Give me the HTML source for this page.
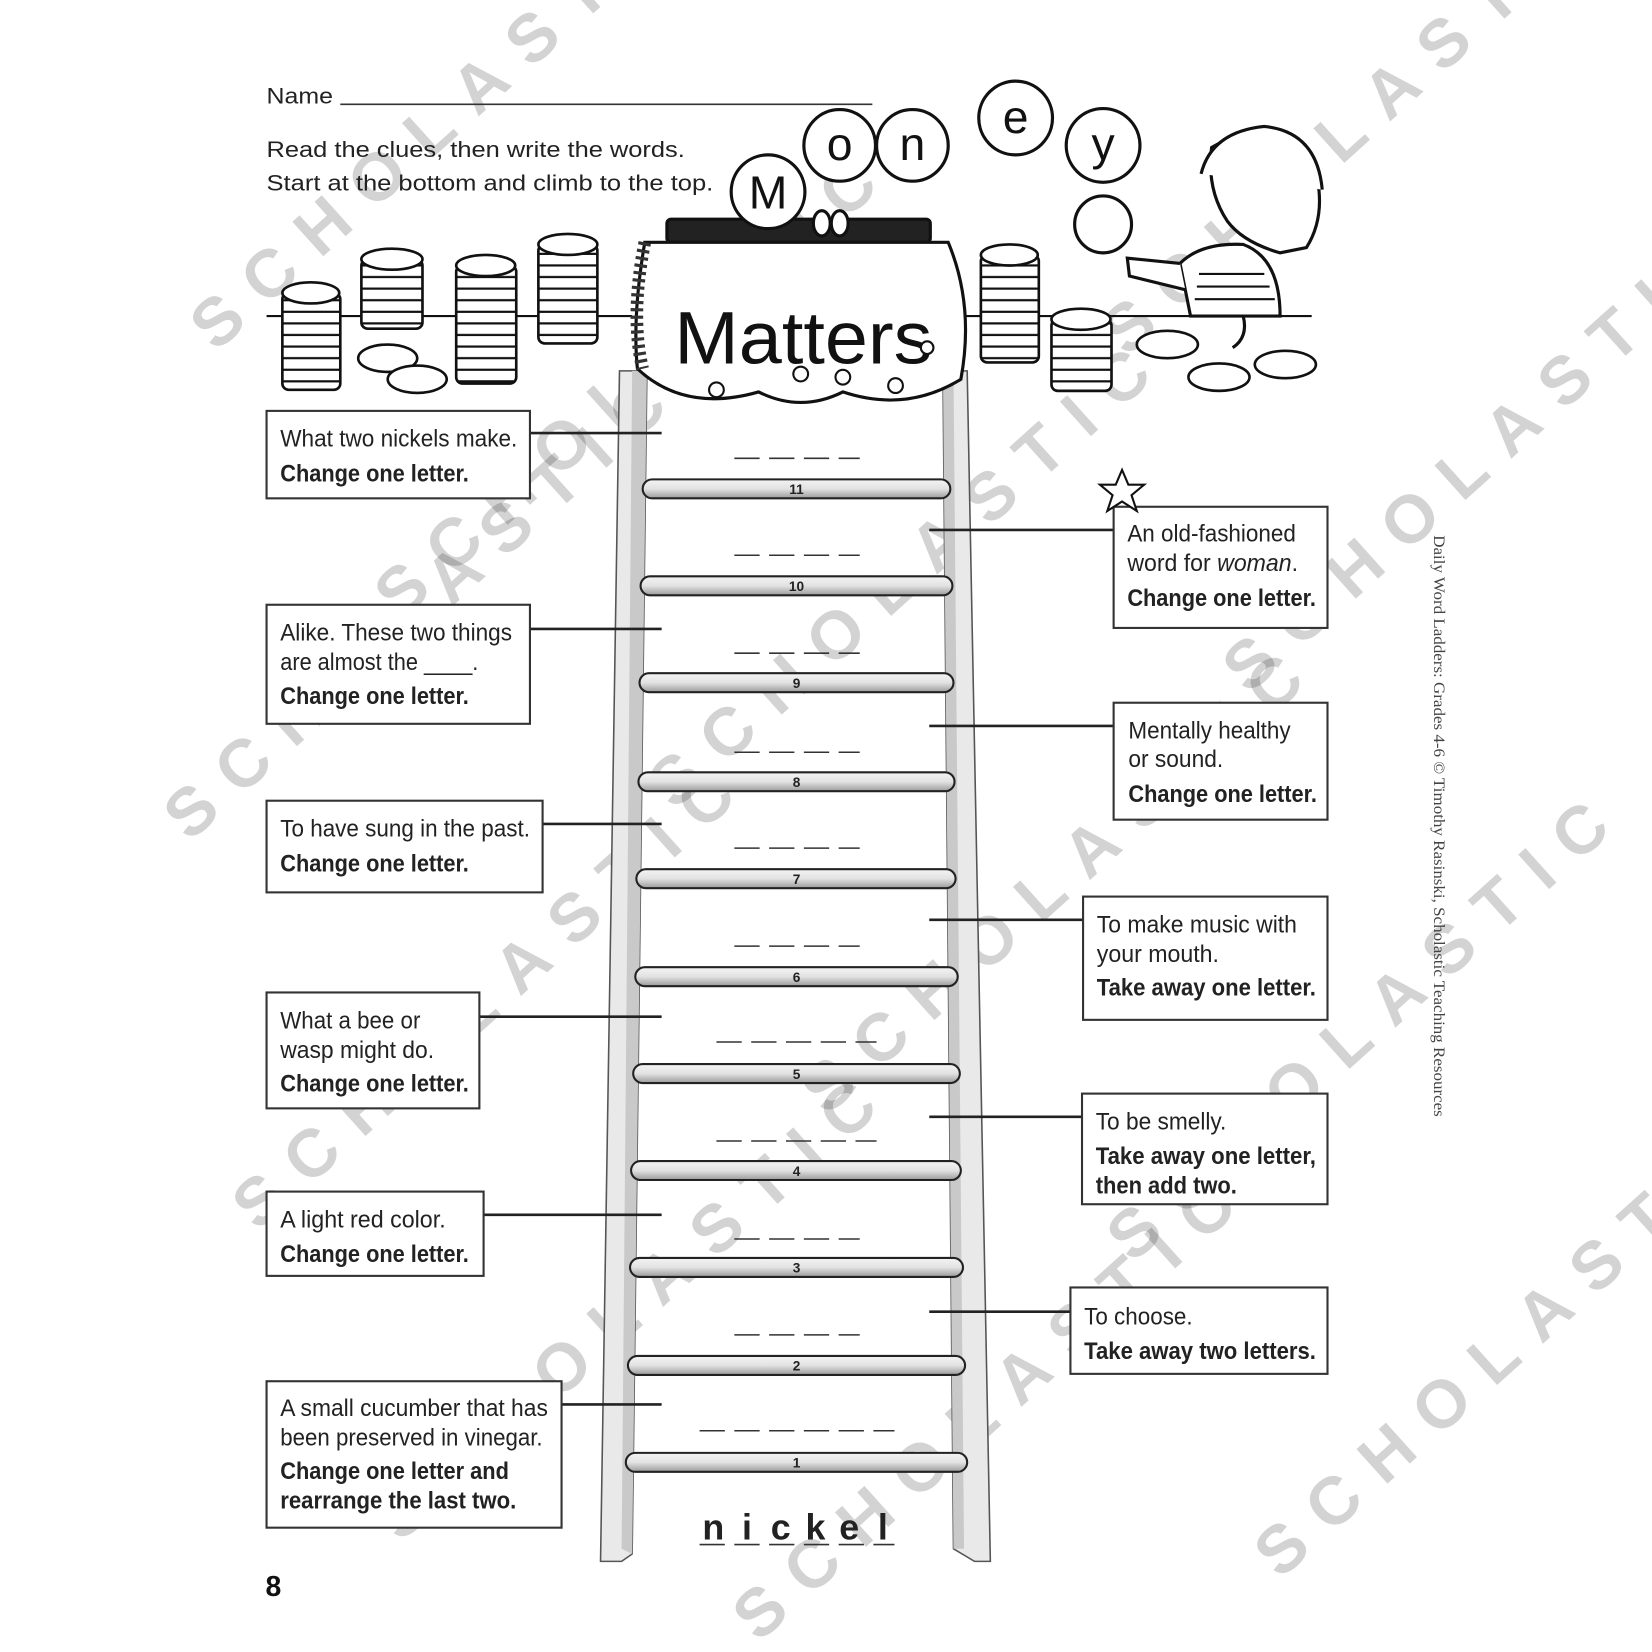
<!DOCTYPE html>
<html><head><meta charset="utf-8"><style>
html,body{margin:0;padding:0;background:#fff;}
#wrap{width:1652px;height:1652px;overflow:hidden;position:relative;}
svg{display:block}
.t{font-family:"Liberation Sans",sans-serif;font-size:23px;fill:#222;}
.b{font-weight:bold;}
.h{font-family:"Liberation Sans",sans-serif;font-size:21px;fill:#222;}
.wm{font-family:"Liberation Sans",sans-serif;font-size:64px;font-weight:bold;fill:#000;opacity:0.17;letter-spacing:22px;}
.n{font-family:"Liberation Sans",sans-serif;font-size:13px;font-weight:bold;fill:#222;text-anchor:middle;}
</style></head><body><div id="wrap">
<svg width="1652" height="1652" viewBox="0 0 1568 1568" xmlns="http://www.w3.org/2000/svg">
<defs>
<pattern id="st" width="10" height="11" patternUnits="userSpaceOnUse"><rect width="10" height="11" fill="#fff"/><line x1="0" y1="10" x2="10" y2="10" stroke="#111" stroke-width="2.2"/></pattern>
<linearGradient id="rg" x1="0" y1="0" x2="0" y2="1"><stop offset="0" stop-color="#f4f4f4"/><stop offset="0.5" stop-color="#e2e2e2"/><stop offset="1" stop-color="#9a9a9a"/></linearGradient>
</defs>
<!-- watermarks -->
<g>
<text class="wm" transform="translate(205,335) rotate(-42)">SCHOLASTIC</text>
<text class="wm" transform="translate(380,590) rotate(-42)">SCHOLASTIC</text>
<text class="wm" transform="translate(640,770) rotate(-42)">SCHOLASTIC</text>
<text class="wm" transform="translate(785,1060) rotate(-42)">SCHOLASTIC</text>
<text class="wm" transform="translate(245,1170) rotate(-42)">SCHOLASTIC</text>
<text class="wm" transform="translate(380,1465) rotate(-42)">SCHOLASTIC</text>
<text class="wm" transform="translate(1075,1200) rotate(-42)">SCHOLASTIC</text>
<text class="wm" transform="translate(1185,660) rotate(-42)">SCHOLASTIC</text>
<text class="wm" transform="translate(1215,1500) rotate(-42)">SCHOLASTIC</text>
<text class="wm" transform="translate(720,1560) rotate(-42)">SCHOLASTIC</text>
<text class="wm" transform="translate(1070,340) rotate(-42)">SCHOLASTIC</text>
<text class="wm" transform="translate(180,800) rotate(-42)">SCHOLASTIC</text>
</g>
<!-- header -->
<text class="h" x="253" y="98" textLength="63" lengthAdjust="spacingAndGlyphs">Name</text>
<line x1="323" y1="99" x2="828" y2="99" stroke="#333" stroke-width="1.5"/>
<text class="h" x="253" y="149" textLength="397" lengthAdjust="spacingAndGlyphs">Read the clues, then write the words.</text>
<text class="h" x="253" y="181" textLength="424" lengthAdjust="spacingAndGlyphs">Start at the bottom and climb to the top.</text>
<!-- ground line -->
<line x1="253" y1="300" x2="600" y2="300" stroke="#111" stroke-width="2"/>
<line x1="915" y1="300" x2="1245" y2="300" stroke="#111" stroke-width="2"/>
<!-- coin stacks -->
<g stroke="#111" stroke-width="2.5">
<rect x="268" y="278" width="55" height="92" rx="6" fill="url(#st)"/><ellipse cx="295" cy="278" rx="27" ry="10" fill="#fff"/>
<rect x="343" y="246" width="58" height="66" rx="6" fill="url(#st)"/><ellipse cx="372" cy="246" rx="29" ry="10" fill="#fff"/>
<rect x="433" y="252" width="57" height="112" rx="6" fill="url(#st)"/><ellipse cx="461" cy="252" rx="28" ry="10" fill="#fff"/>
<rect x="511" y="232" width="56" height="94" rx="6" fill="url(#st)"/><ellipse cx="539" cy="232" rx="28" ry="10" fill="#fff"/>
<rect x="931" y="242" width="55" height="102" rx="6" fill="url(#st)"/><ellipse cx="958" cy="242" rx="27" ry="10" fill="#fff"/>
<rect x="998" y="303" width="57" height="68" rx="6" fill="url(#st)"/><ellipse cx="1026" cy="303" rx="28" ry="10" fill="#fff"/>
<ellipse cx="368" cy="340" rx="28" ry="13" fill="#fff"/><ellipse cx="396" cy="360" rx="28" ry="13" fill="#fff"/>
<ellipse cx="1108" cy="327" rx="29" ry="13" fill="#fff"/><ellipse cx="1157" cy="358" rx="29" ry="13" fill="#fff"/><ellipse cx="1220" cy="346" rx="29" ry="13" fill="#fff"/>
</g>
<!-- ladder rails -->
<polygon points="588,352 614,352 600,1475 590,1482 570,1482" fill="#e9e9e9" stroke="#555" stroke-width="1.5"/>
<polygon points="600,352 614,352 600,1475 590,1470" fill="#c9c9c9"/>
<polygon points="895,352 918,352 940,1482 925,1482 905,1470" fill="#e9e9e9" stroke="#555" stroke-width="1.5"/>
<polygon points="895,352 905,352 915,1470 905,1470" fill="#c9c9c9"/>
<!-- purse -->
<g stroke="#111" stroke-width="3">
<rect x="633" y="208" width="250" height="22" rx="4" fill="#222"/>
<path d="M612,230 Q600,300 605,350 Q650,392 720,372 Q760,392 800,372 Q860,392 912,360 Q925,290 900,230 Z" fill="#fff"/>
<path d="M612,230 Q598,300 610,350" stroke-width="12" stroke="#333" fill="none" stroke-dasharray="3 4"/>
<ellipse cx="780" cy="212" rx="8" ry="12" fill="#fff"/><ellipse cx="797" cy="212" rx="8" ry="12" fill="#fff"/>
</g>
<text x="640" y="345" font-size="70" fill="#111" style="font-family:'Liberation Sans',sans-serif" textLength="245" lengthAdjust="spacingAndGlyphs">Matters</text>
<g circle-="" stroke="#111" stroke-width="2" fill="#fff"><circle cx="680" cy="370" r="7"/><circle cx="760" cy="355" r="7"/><circle cx="800" cy="358" r="7"/><circle cx="850" cy="366" r="7"/><circle cx="880" cy="330" r="6"/></g>
<!-- money coins -->
<g stroke="#111" stroke-width="3" fill="#fff">
<circle cx="729" cy="182" r="35"/><circle cx="797" cy="138" r="34"/><circle cx="866" cy="138" r="34"/><circle cx="964" cy="112" r="35"/><circle cx="1047" cy="138" r="35"/>
<circle cx="1047" cy="213" r="27"/>
</g>
<g font-size="44" fill="#111" text-anchor="middle" style="font-family:'Liberation Sans',sans-serif">
<text x="729" y="198">M</text><text x="797" y="152">o</text><text x="866" y="152">n</text><text x="964" y="126">e</text><text x="1047" y="152">y</text>
</g>
<!-- girl -->
<g stroke="#111" stroke-width="3" fill="#fff">
<path d="M1130,300 L1120,250 Q1140,230 1180,232 Q1215,245 1215,300 Z"/>
<path d="M1120,250 L1070,245 L1072,262 L1125,275"/>
<path d="M1150,140 Q1200,110 1245,150 Q1262,200 1240,235 L1215,240 Q1180,230 1165,210 Q1145,180 1150,140 Z"/>
<path d="M1140,165 Q1150,125 1200,120 Q1250,125 1255,180"/>
<path d="M1180,300 Q1185,320 1170,330"/>
</g>
<g stroke="#111" stroke-width="2"><line x1="1138" y1="260" x2="1200" y2="260"/><line x1="1136" y1="272" x2="1205" y2="272"/><line x1="1134" y1="284" x2="1210" y2="284"/></g>
<!-- rungs -->
<g stroke="#222" stroke-width="2" fill="url(#rg)">
<rect x="610" y="455" width="292" height="18" rx="9"/>
<rect x="608" y="547" width="296" height="18" rx="9"/>
<rect x="607" y="639" width="298" height="18" rx="9"/>
<rect x="606" y="733" width="300" height="18" rx="9"/>
<rect x="604" y="825" width="303" height="18" rx="9"/>
<rect x="603" y="918" width="306" height="18" rx="9"/>
<rect x="601" y="1010" width="310" height="18" rx="9"/>
<rect x="599" y="1102" width="313" height="18" rx="9"/>
<rect x="598" y="1194" width="316" height="18" rx="9"/>
<rect x="596" y="1287" width="320" height="18" rx="9"/>
<rect x="594" y="1379" width="324" height="18" rx="9"/>
</g>
<g>
<text class="n" x="756" y="469">11</text><text class="n" x="756" y="561">10</text><text class="n" x="756" y="653">9</text><text class="n" x="756" y="747">8</text><text class="n" x="756" y="839">7</text><text class="n" x="756" y="932">6</text><text class="n" x="756" y="1024">5</text><text class="n" x="756" y="1116">4</text><text class="n" x="756" y="1208">3</text><text class="n" x="756" y="1301">2</text><text class="n" x="756" y="1393">1</text>
</g>
<!-- blanks -->
<g stroke="#333" stroke-width="1.5" stroke-dasharray="24 9">
<line x1="697" y1="435" x2="816" y2="435"/>
<line x1="697" y1="527" x2="816" y2="527"/>
<line x1="697" y1="620" x2="816" y2="620"/>
<line x1="697" y1="714" x2="816" y2="714"/>
<line x1="697" y1="805" x2="816" y2="805"/>
<line x1="697" y1="898" x2="816" y2="898"/>
<line x1="680" y1="989" x2="832" y2="989"/>
<line x1="680" y1="1083" x2="832" y2="1083"/>
<line x1="697" y1="1176" x2="816" y2="1176"/>
<line x1="697" y1="1267" x2="816" y2="1267"/>
<line x1="664" y1="1358" x2="849" y2="1358"/>
<line x1="664" y1="1466" x2="849" y2="1466"/>
</g>
<g font-size="34" font-weight="bold" fill="#222" text-anchor="middle" style="font-family:'Liberation Sans',sans-serif">
<text x="677" y="1461">n</text><text x="709" y="1461">i</text><text x="741" y="1461">c</text><text x="774" y="1461">k</text><text x="806" y="1461">e</text><text x="838" y="1461">l</text>
</g>
<!-- connectors -->
<g stroke="#222" stroke-width="2.5">
<line x1="503" y1="411" x2="628" y2="411"/>
<line x1="503" y1="597" x2="628" y2="597"/>
<line x1="515" y1="782" x2="628" y2="782"/>
<line x1="455" y1="965" x2="628" y2="965"/>
<line x1="459" y1="1153" x2="628" y2="1153"/>
<line x1="533" y1="1333" x2="628" y2="1333"/>
<line x1="882" y1="503" x2="1057" y2="503"/>
<line x1="882" y1="689" x2="1057" y2="689"/>
<line x1="882" y1="873" x2="1028" y2="873"/>
<line x1="882" y1="1060" x2="1027" y2="1060"/>
<line x1="882" y1="1245" x2="1016" y2="1245"/>
</g>
<!-- boxes -->
<g fill="#fff" stroke="#333" stroke-width="2">
<rect x="253" y="390" width="250" height="83"/>
<rect x="253" y="574" width="250" height="113"/>
<rect x="253" y="760" width="262" height="87"/>
<rect x="253" y="942" width="202" height="110"/>
<rect x="253" y="1131" width="206" height="80"/>
<rect x="253" y="1311" width="280" height="139"/>
<rect x="1057" y="481" width="203" height="115"/>
<rect x="1057" y="667" width="203" height="111"/>
<rect x="1028" y="851" width="232" height="117"/>
<rect x="1027" y="1038" width="233" height="105"/>
<rect x="1016" y="1222" width="244" height="82"/>
</g>
<!-- star -->
<path d="M1065,446 L1071,460 L1086,460 L1074,470 L1079,485 L1065,476 L1051,485 L1056,470 L1044,460 L1059,460 Z" fill="#fff" stroke="#111" stroke-width="2"/>
<!-- box text -->
<g>
<text class="t" x="266" y="424" textLength="225" lengthAdjust="spacingAndGlyphs">What two nickels make.</text>
<text class="t b" x="266" y="457" textLength="179" lengthAdjust="spacingAndGlyphs">Change one letter.</text>
<text class="t" x="266" y="608" textLength="220" lengthAdjust="spacingAndGlyphs">Alike. These two things</text>
<text class="t" x="266" y="636" textLength="188" lengthAdjust="spacingAndGlyphs">are almost the ____.</text>
<text class="t b" x="266" y="668" textLength="179" lengthAdjust="spacingAndGlyphs">Change one letter.</text>
<text class="t" x="266" y="794" textLength="237" lengthAdjust="spacingAndGlyphs">To have sung in the past.</text>
<text class="t b" x="266" y="827" textLength="179" lengthAdjust="spacingAndGlyphs">Change one letter.</text>
<text class="t" x="266" y="976" textLength="133" lengthAdjust="spacingAndGlyphs">What a bee or</text>
<text class="t" x="266" y="1004" textLength="146" lengthAdjust="spacingAndGlyphs">wasp might do.</text>
<text class="t b" x="266" y="1036" textLength="179" lengthAdjust="spacingAndGlyphs">Change one letter.</text>
<text class="t" x="266" y="1165" textLength="157" lengthAdjust="spacingAndGlyphs">A light red color.</text>
<text class="t b" x="266" y="1198" textLength="179" lengthAdjust="spacingAndGlyphs">Change one letter.</text>
<text class="t" x="266" y="1344" textLength="254" lengthAdjust="spacingAndGlyphs">A small cucumber that has</text>
<text class="t" x="266" y="1372" textLength="249" lengthAdjust="spacingAndGlyphs">been preserved in vinegar.</text>
<text class="t b" x="266" y="1404" textLength="217" lengthAdjust="spacingAndGlyphs">Change one letter and</text>
<text class="t b" x="266" y="1432" textLength="224" lengthAdjust="spacingAndGlyphs">rearrange the last two.</text>
<text class="t" x="1070" y="514" textLength="160" lengthAdjust="spacingAndGlyphs">An old-fashioned</text>
<text class="t" x="1070" y="542" textLength="162" lengthAdjust="spacingAndGlyphs">word for <tspan font-style="italic">woman</tspan>.</text>
<text class="t b" x="1070" y="575" textLength="179" lengthAdjust="spacingAndGlyphs">Change one letter.</text>
<text class="t" x="1071" y="701" textLength="154" lengthAdjust="spacingAndGlyphs">Mentally healthy</text>
<text class="t" x="1071" y="728" textLength="90" lengthAdjust="spacingAndGlyphs">or sound.</text>
<text class="t b" x="1071" y="761" textLength="179" lengthAdjust="spacingAndGlyphs">Change one letter.</text>
<text class="t" x="1041" y="885" textLength="190" lengthAdjust="spacingAndGlyphs">To make music with</text>
<text class="t" x="1041" y="913" textLength="116" lengthAdjust="spacingAndGlyphs">your mouth.</text>
<text class="t b" x="1041" y="945" textLength="208" lengthAdjust="spacingAndGlyphs">Take away one letter.</text>
<text class="t" x="1040" y="1072" textLength="124" lengthAdjust="spacingAndGlyphs">To be smelly.</text>
<text class="t b" x="1040" y="1105" textLength="209" lengthAdjust="spacingAndGlyphs">Take away one letter,</text>
<text class="t b" x="1040" y="1133" textLength="134" lengthAdjust="spacingAndGlyphs">then add two.</text>
<text class="t" x="1029" y="1257" textLength="103" lengthAdjust="spacingAndGlyphs">To choose.</text>
<text class="t b" x="1029" y="1290" textLength="220" lengthAdjust="spacingAndGlyphs">Take away two letters.</text>
</g>
<text x="252" y="1515" font-size="27" font-weight="bold" fill="#111" style="font-family:'Liberation Sans',sans-serif">8</text>
<text transform="translate(1361,508) rotate(90)" font-size="14.5" fill="#444" style="font-family:'Liberation Serif',serif" textLength="552" lengthAdjust="spacingAndGlyphs">Daily Word Ladders: Grades 4-6 © Timothy Rasinski, Scholastic Teaching Resources</text>
</svg>
</div></body></html>
